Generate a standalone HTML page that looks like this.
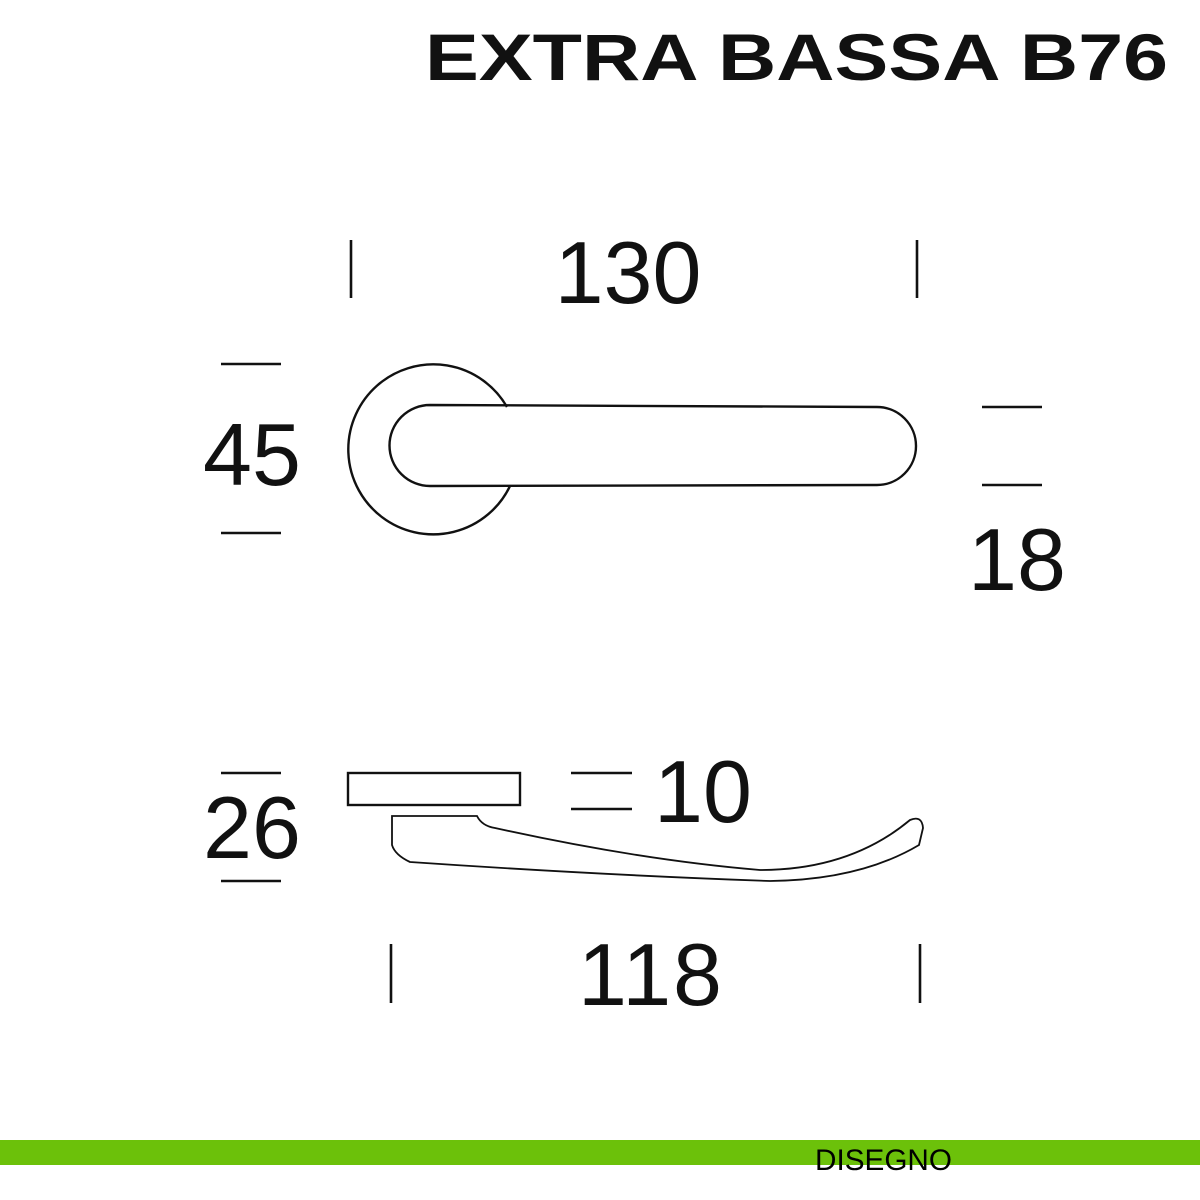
<!DOCTYPE html>
<html><head><style>
html,body{margin:0;padding:0;background:#fff;}
body{width:1200px;height:1200px;position:relative;overflow:hidden;}
</style></head><body>
<svg width="1200" height="1200" viewBox="0 0 1200 1200" xmlns="http://www.w3.org/2000/svg" style="position:absolute;left:0;top:0">
<text x="1168" y="80" text-anchor="end" font-family="Liberation Sans, sans-serif" font-weight="bold" font-size="66" textLength="743" lengthAdjust="spacingAndGlyphs" fill="#111">EXTRA BASSA B76</text>
<g stroke="#111" stroke-width="2.6" fill="none">
<line x1="351" y1="240" x2="351" y2="298"/>
<line x1="917" y1="240" x2="917" y2="298"/>
<line x1="221" y1="364" x2="281" y2="364"/>
<line x1="221" y1="533" x2="281" y2="533"/>
<line x1="982" y1="407" x2="1042" y2="407"/>
<line x1="982" y1="485" x2="1042" y2="485"/>
<line x1="221" y1="773" x2="281" y2="773"/>
<line x1="221" y1="881" x2="281" y2="881"/>
<line x1="571" y1="773" x2="632" y2="773"/>
<line x1="571" y1="809" x2="632" y2="809"/>
<line x1="391" y1="944" x2="391" y2="1003"/>
<line x1="920" y1="944" x2="920" y2="1003"/>
</g>
<g stroke="#111" stroke-width="2.4" fill="none">
<path d="M507 407 A85 85 0 1 0 510 486"/>
<path d="M430 405 L877 407 A39 39 0 0 1 877 485 L430 486 A40.5 40.5 0 0 1 430 405 Z"/>
<rect x="348" y="773" width="172" height="32"/>
</g>
<path d="M392 816 L477 816 Q482 826 495 828 Q640 860 760 870 Q850 870 910 820 Q922 815 923 828 L919 845 Q860 880 770 881 Q600 875 410 862 Q395 855 392 845 Z" stroke="#111" stroke-width="1.8" fill="none"/>
<g font-family="Liberation Sans, sans-serif" font-size="88" fill="#111">
<text x="628" y="303" text-anchor="middle">130</text>
<text x="252" y="485" text-anchor="middle">45</text>
<text x="1017" y="590" text-anchor="middle">18</text>
<text x="252" y="858" text-anchor="middle">26</text>
<text x="703" y="822" text-anchor="middle">10</text>
<text x="650" y="1005" text-anchor="middle" textLength="144" lengthAdjust="spacing">118</text>
</g>
<rect x="0" y="1140" width="1200" height="25" fill="#6cc10a"/>
<text x="815" y="1170" font-family="Liberation Sans, sans-serif" font-size="30" textLength="137" lengthAdjust="spacingAndGlyphs" fill="#000">DISEGNO</text>
</svg>
</body></html>
